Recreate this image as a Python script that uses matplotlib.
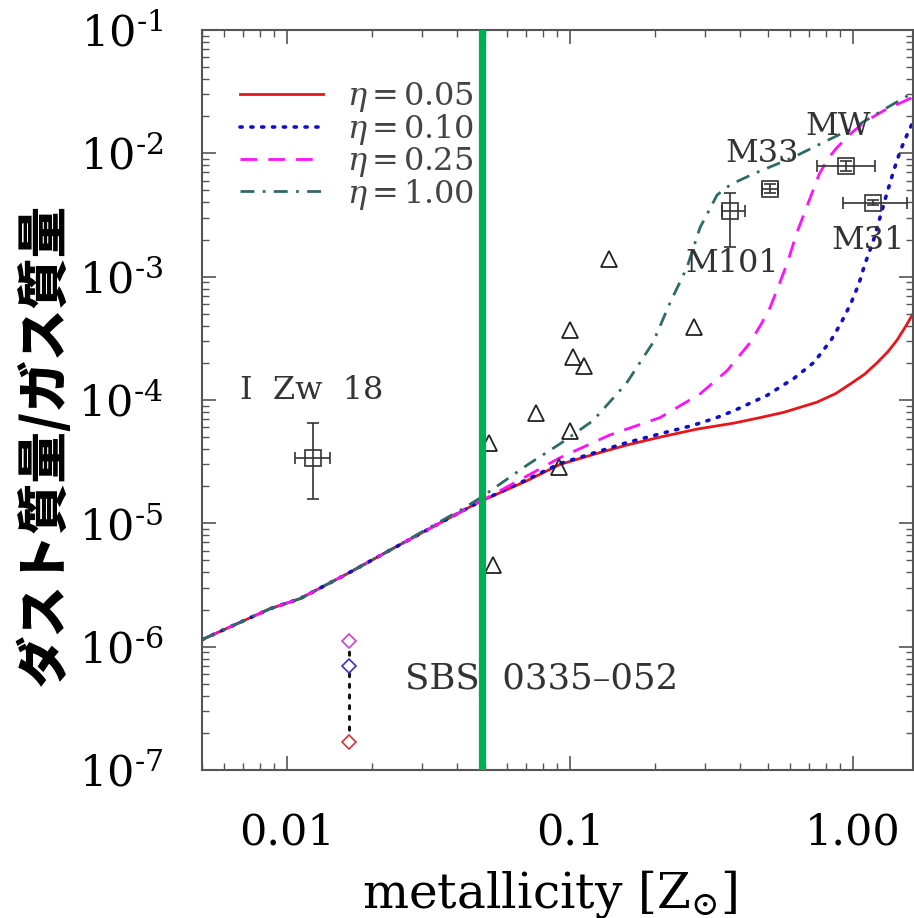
import numpy as np
import matplotlib
matplotlib.use("Agg")
import matplotlib.pyplot as plt

plt.rcParams['mathtext.fontset'] = 'dejavuserif'
plt.rcParams['font.family'] = ['DejaVu Serif']

# model curves (Z in solar units, dust/gas)
z_eta005 = [0.005, 0.0087, 0.0111, 0.0163, 0.0226, 0.0328, 0.048, 0.07, 0.092, 0.125, 0.158,
            0.208, 0.28, 0.38, 0.47, 0.57, 0.746, 0.87, 0.984, 1.1, 1.216, 1.33, 1.43, 1.53, 1.63]
d_eta005 = [1.14e-6, 2.03e-6, 2.45e-6, 3.9e-6, 5.9e-6, 9.4e-6, 1.5e-5, 2.2e-5, 3.0e-5, 3.7e-5, 4.3e-5,
            5.0e-5, 5.8e-5, 6.5e-5, 7.2e-5, 7.95e-5, 9.6e-5, 1.13e-4, 1.36e-4, 1.62e-4, 2.0e-4,
            2.47e-4, 3.05e-4, 3.9e-4, 5.0e-4]

z_eta010 = [0.005, 0.0087, 0.0111, 0.0163, 0.0226, 0.0328, 0.048, 0.07, 0.092, 0.125, 0.158,
            0.22, 0.27, 0.33, 0.38, 0.497, 0.619, 0.728, 0.836, 0.907, 0.984, 1.05, 1.1, 1.18, 1.25,
            1.32, 1.4, 1.47, 1.55, 1.63]
d_eta010 = [1.14e-6, 2.03e-6, 2.45e-6, 3.9e-6, 5.9e-6, 9.4e-6, 1.5e-5, 2.25e-5, 3.05e-5, 3.8e-5, 4.5e-5,
            5.5e-5, 6.2e-5, 7.2e-5, 8.2e-5, 1.09e-4, 1.5e-4, 2.02e-4, 3.05e-4, 4.2e-4, 6.1e-4, 8.8e-4,
            1.25e-3, 1.95e-3, 3.1e-3, 4.8e-3, 7.5e-3, 1.05e-2, 1.4e-2, 1.8e-2]

z_eta025 = [0.005, 0.0087, 0.0111, 0.0163, 0.0226, 0.0328, 0.048, 0.07, 0.092, 0.138, 0.208,
            0.288, 0.359, 0.432, 0.473, 0.509, 0.552, 0.59, 0.63, 0.69, 0.76, 0.82, 0.88, 1.0,
            1.12, 1.3, 1.63]
d_eta025 = [1.14e-6, 2.03e-6, 2.45e-6, 3.9e-6, 5.9e-6, 9.4e-6, 1.5e-5, 2.4e-5, 3.4e-5, 5.2e-5, 7.2e-5,
            1.12e-4, 1.73e-4, 2.9e-4, 4.1e-4, 5.6e-4, 9.0e-4, 1.35e-3, 2.2e-3, 3.8e-3, 6.8e-3,
            9.2e-3, 1.12e-2, 1.5e-2, 1.85e-2, 2.25e-2, 2.85e-2]

z_eta100 = [0.005, 0.0087, 0.0111, 0.0163, 0.0226, 0.0328, 0.041, 0.048, 0.071, 0.092, 0.1205,
            0.158, 0.196, 0.2254, 0.259, 0.288, 0.331, 0.37, 0.45, 0.61, 0.81, 1.0, 1.3, 1.63]
d_eta100 = [1.14e-6, 2.03e-6, 2.45e-6, 3.9e-6, 5.9e-6, 9.6e-6, 1.28e-5, 1.6e-5, 3.0e-5, 4.4e-5, 6.8e-5,
            1.36e-4, 2.9e-4, 6.1e-4, 1.19e-3, 2.5e-3, 4.6e-3, 5.6e-3, 6.9e-3, 9.2e-3, 1.27e-2,
            1.6e-2, 2.3e-2, 3.1e-2]

# dwarf galaxy sample (triangles)
tri_z = [0.0518, 0.0535, 0.0759, 0.100, 0.1026, 0.112, 0.100, 0.0914, 0.274, 0.137]
tri_d = [4.45e-5, 4.6e-6, 7.8e-5, 3.67e-4, 2.22e-4, 1.9e-4, 5.6e-5, 2.85e-5, 3.9e-4, 1.4e-3]

# named galaxies with error bars
gal_names = ["I Zw 18", "M101", "M33", "MW", "M31"]
gal_z = [0.01236, 0.367, 0.509, 0.944, 1.178]
gal_d = [3.37e-5, 3.43e-3, 5.17e-3, 7.95e-3, 3.98e-3]
gal_zlo = [0.01066, 0.344, 0.478, 0.746, 0.923]
gal_zhi = [0.0142, 0.415, 0.542, 1.197, 1.55]
gal_dlo = [1.57e-5, 1.75e-3, 4.75e-3, 7.25e-3, 3.8e-3]
gal_dhi = [6.45e-5, 4.8e-3, 5.6e-3, 8.7e-3, 4.17e-3]

# SBS 0335-052
sbs_z = [0.01655, 0.01655, 0.01655]
sbs_d = [1.12e-6, 7.0e-7, 1.7e-7]
sbs_colors = ['#d040d0', '#3535c0', '#d03535']

fig = plt.figure(figsize=(9.14, 9.18), dpi=100)
ax = fig.add_axes([202/914, 1-770/918, 711/914, 740/918])
ax.set_xscale('log')
ax.set_yscale('log')

ax.plot(z_eta005, d_eta005, color='#e8161b', lw=2.0, ls='-', label=r'$\eta\,$=$\,$0.05')
ax.plot(z_eta010, d_eta010, color='#1010c8', lw=2.6, ls=(0, (0.6, 2.4)), dash_capstyle='round',
        label=r'$\eta\,$=$\,$0.10')
ax.plot(z_eta025, d_eta025, color='#ff10ff', lw=2.0, ls=(0, (6, 4)), label=r'$\eta\,$=$\,$0.25')
ax.plot(z_eta100, d_eta100, color='#2e6b66', lw=2.0, ls=(0, (5, 3, 1, 3)), label=r'$\eta\,$=$\,$1.00')

ax.plot(tri_z, tri_d, ls='none', marker='^', ms=12, mfc='none', mec='#222222', mew=1.3)

gal_z = np.array(gal_z)
gal_d = np.array(gal_d)
xerr = [gal_z - np.array(gal_zlo), np.array(gal_zhi) - gal_z]
yerr = [gal_d - np.array(gal_dlo), np.array(gal_dhi) - gal_d]
ax.errorbar(gal_z, gal_d, xerr=xerr, yerr=yerr, fmt='s', ms=11, mfc='none', mec='#333333',
            mew=1.2, ecolor='#333333', elinewidth=1.2, capsize=4.5, capthick=1.2)

ax.plot(sbs_z, sbs_d, ls=(0, (1, 2.5)), color='#111111', lw=2.2, dash_capstyle='round')
for zz, dd, cc in zip(sbs_z, sbs_d, sbs_colors):
    ax.plot(zz, dd, marker='D', ms=7, mfc='white', mec=cc, mew=1.2, ls='none')

lab_kw = dict(fontsize=23, color='#333333', ha='center', va='center')
ax.text(0.01225, 1.2e-4, "I  Zw  18", **lab_kw)
ax.text(0.373, 1.27e-3, "M101", **lab_kw)
ax.text(0.476, 1.0e-2, "M33", **lab_kw)
ax.text(0.885, 1.65e-2, "MW", **lab_kw)
ax.text(1.13, 1.96e-3, "M31", **lab_kw)
ax.text(0.0796, 5.5e-7, "SBS  0335\u2013052", fontsize=25.5, color='#333333', ha='center', va='center')

leg = ax.legend(loc='upper left', bbox_to_anchor=(0.053, 0.932), frameon=False, fontsize=23,
                handlelength=2.6, handletextpad=0.75, labelspacing=-0.07, borderpad=0,
                borderaxespad=0)
for t in leg.get_texts():
    t.set_color('#444444')

ax.axvline(0.049, color='#00b050', lw=5.2, zorder=10)

ax.set_xlim(0.005, 1.63)
ax.set_ylim(1e-7, 1e-1)

ax.set_xticks([0.01, 0.1, 1.0], ['0.01', '0.1', '1.00'])
ax.set_yticks([1e-7, 1e-6, 1e-5, 1e-4, 1e-3, 1e-2, 1e-1],
              ['$10^{\u20107}$', '$10^{\u20106}$', '$10^{\u20105}$', '$10^{\u20104}$',
               '$10^{\u20103}$', '$10^{\u20102}$', '$10^{\u20101}$'])
ax.tick_params(which='both', direction='in', top=True, right=True, colors='#555555')
ax.tick_params(which='major', length=10, width=1.2, pad=28, labelsize=31, labelcolor='black')
ax.tick_params(which='minor', length=5, width=1.0)
ax.tick_params(axis='x', which='major', pad=30)
for s in ax.spines.values():
    s.set_color('#555555')
    s.set_linewidth(1.5)

fig.text(550/914, 1-907/918, r'metallicity [Z$_{\odot}$]', fontsize=35, ha='center', va='baseline')
fig.text(45/914, 1-445/918, 'ダスト質量/ガス質量', fontsize=37, rotation=90, ha='center', va='center',
         family=['Noto Sans CJK JP', 'DejaVu Sans'], weight='black')

fig.savefig('out.png', dpi=100)
